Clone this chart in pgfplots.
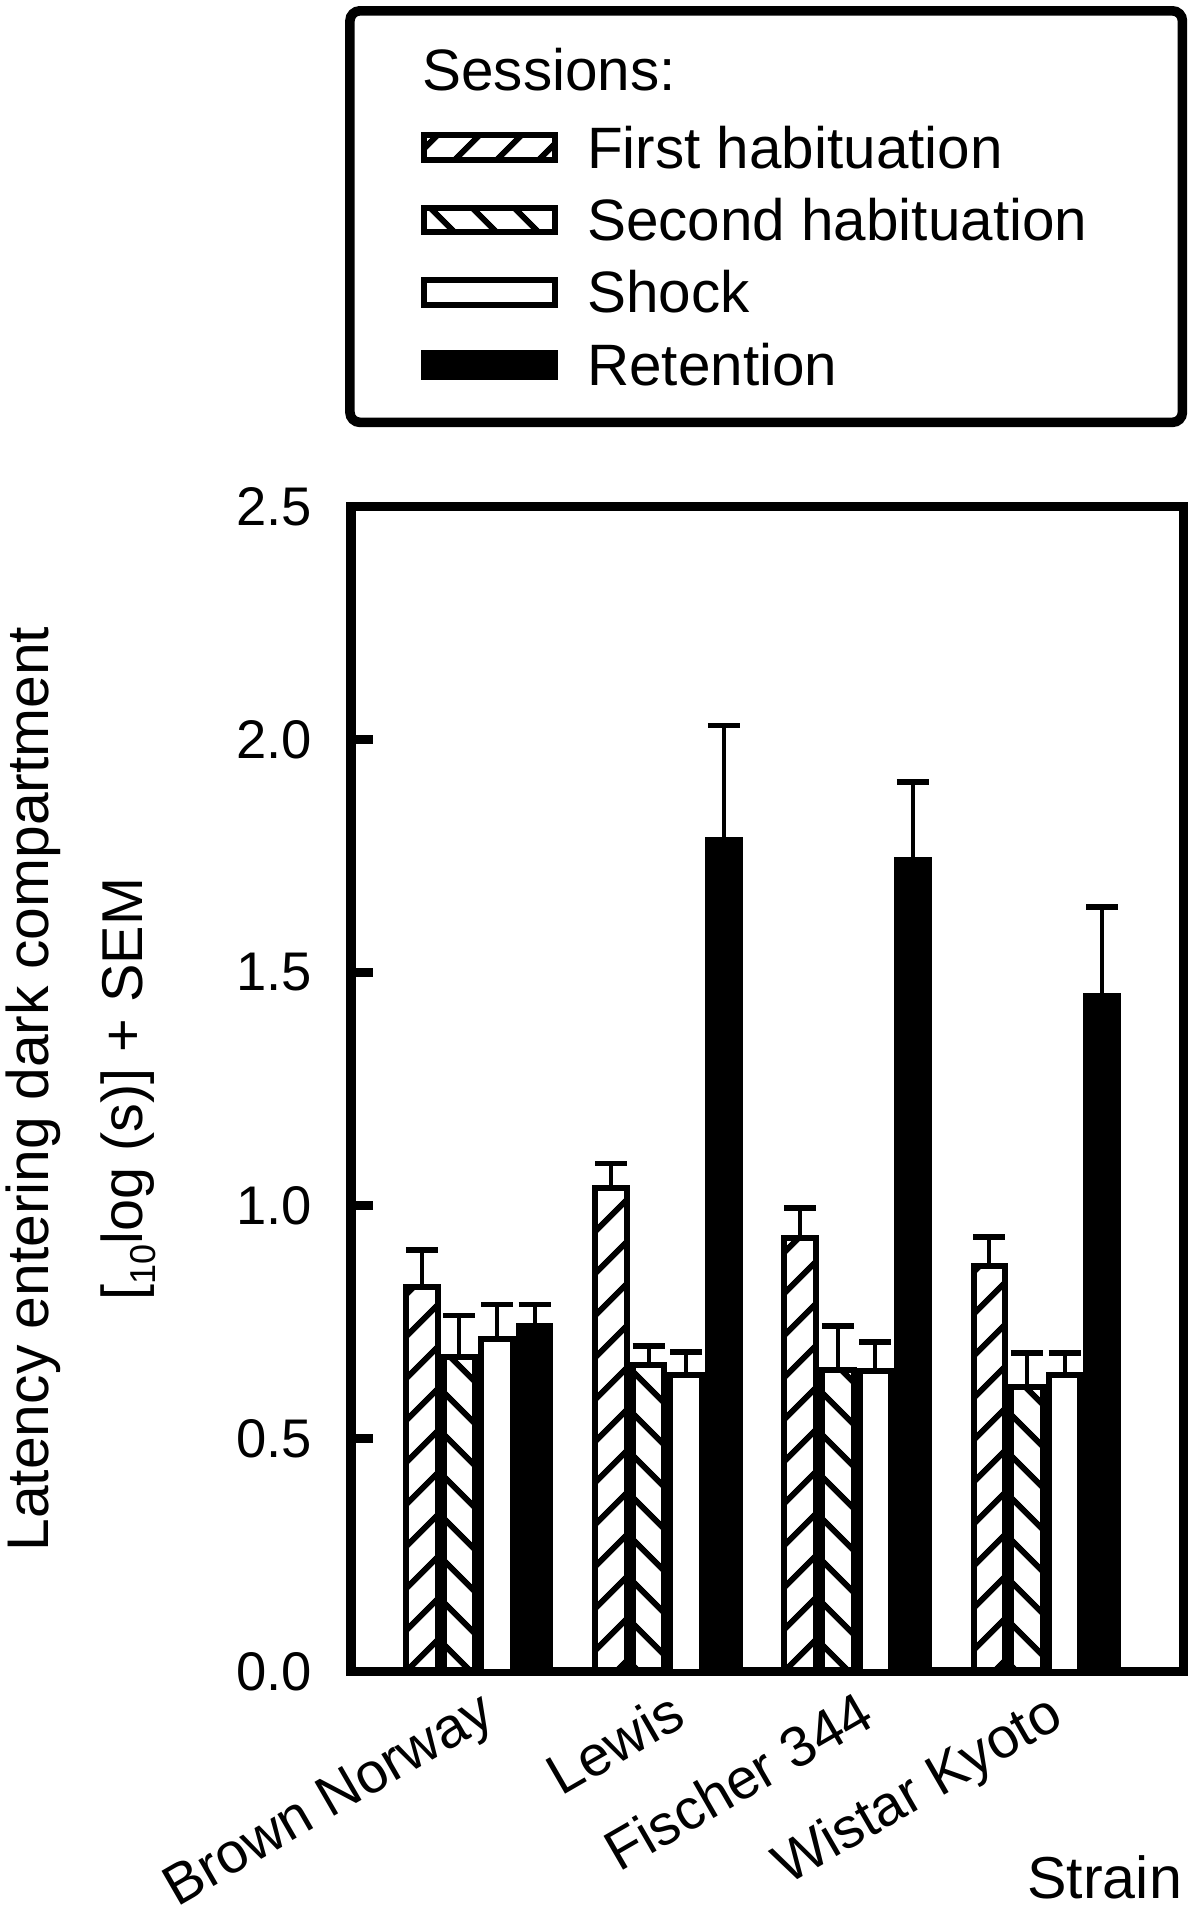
\documentclass[border=0pt]{standalone}
\usepackage{pgfplots}
\usepackage{pgfplotstable}
\pgfplotsset{compat=1.18}
\usepackage{fontspec}
\setmainfont{Liberation Sans}
\usetikzlibrary{patterns.meta}

\pgfplotstableread{
x y e
0 0.825 0.080
1 1.038 0.052
2 0.931 0.064
3 0.870 0.063
}\firsthab
\pgfplotstableread{
x y e
0 0.675 0.089
1 0.657 0.042
2 0.648 0.094
3 0.610 0.074
}\secondhab
\pgfplotstableread{
x y e
0 0.714 0.074
1 0.637 0.049
2 0.646 0.061
3 0.637 0.047
}\shock
\pgfplotstableread{
x y e
0 0.742 0.046
1 1.784 0.246
2 1.741 0.168
3 1.450 0.191
}\retention

\begin{document}
\begin{tikzpicture}
\begin{axis}[
  scale only axis,
  width=208.2pt, height=291.3pt,
  xmin=-0.674, xmax=3.729,
  ymin=0, ymax=2.5,
  clip=false,
  ybar=1.5pt, bar width=7.9pt,
  axis line style={line width=2.4pt, line cap=rect},
  xtick={0,1,2,3},
  xticklabels={Brown Norway, Lewis, Fischer 344, Wistar Kyoto},
  x tick style={draw=none},
  x tick label style={rotate=30, anchor=north east, inner sep=0pt, text depth=0pt, font=\fontsize{14.2}{17}\selectfont},
  xticklabel shift=4pt,
  ytick={0,0.5,1,1.5,2,2.5},
  ytick pos=left,
  tick align=inside,
  major tick length=5.5pt,
  y tick style={line width=2.2pt, black},
  /pgf/number format/assume math mode=true,
  y tick label style={/pgf/number format/fixed, /pgf/number format/fixed zerofill, /pgf/number format/precision=1, inner sep=0pt, font=\fontsize{13.6}{16}\selectfont},
  yticklabel shift=9.5pt,
  ylabel={{\fontsize{14.7}{23.5}\selectfont Latency entering dark compartment}\\{[}\raisebox{-0.4ex}{\fontsize{9}{9}\selectfont 10}log (s)] + SEM},
  ylabel style={at={(axis description cs:-0.324,0.5)}, anchor=center, align=center, font=\fontsize{14.4}{23.5}\selectfont},
  xlabel={Strain},
  xlabel style={at={(axis description cs:0.999,-0.157)}, anchor=north east, inner sep=0pt, font=\fontsize{14.8}{17}\selectfont},
  legend style={draw=none, fill=none, at={(axis description cs:0.0841,1.3263)}, anchor=north west,
    inner sep=0pt, outer sep=0pt, row sep=4.6pt, column sep=7.2pt,
    font=\fontsize{14.6}{17}\selectfont,
    nodes={inner sep=0pt, text height=10.5pt, text depth=3pt}},
  legend cell align=left,
  legend image code/.code={\draw[#1, line width=1.5pt] (0.75pt,-1.65pt) rectangle (33.65pt,4.45pt);},
  error bars/y dir=plus,
  error bars/y explicit,
  error bars/error mark options={rotate=90, mark size=4pt, line width=1.4pt, black},
  error bars/error bar style={line width=1pt, black},
]
\addplot[draw=black, line width=1.5pt, pattern={Lines[angle=45, distance=7.4pt, line width=1.5pt]}]
  table[x=x, y=y, y error=e] {\firsthab};
\addlegendentry{First habituation}
\addplot[draw=black, line width=1.5pt, pattern={Lines[angle=-45, distance=7.4pt, line width=1.5pt]}]
  table[x=x, y=y, y error=e] {\secondhab};
\addlegendentry{Second habituation}
\addplot[draw=black, line width=1.5pt, fill=white]
  table[x=x, y=y, y error=e] {\shock};
\addlegendentry{Shock}
\addplot[draw=black, line width=1.5pt, fill=black]
  table[x=x, y=y, y error=e] {\retention};
\addlegendentry{Retention}

\draw[line width=2.4pt, rounded corners=2.5pt] (axis description cs:-0.001,1.0721) rectangle (axis description cs:0.9986,1.4253);
\node[anchor=west, inner sep=0pt, font=\fontsize{14.6}{17}\selectfont] at (axis description cs:0.085,1.3749) {Sessions:};
\coordinate (BBsw) at (axis description cs:-0.4212,-0.2063);
\coordinate (BBne) at (axis description cs:1.0197,1.4346);
\end{axis}
\pgfresetboundingbox
\path (BBsw) rectangle (BBne);
\end{tikzpicture}
\end{document}
